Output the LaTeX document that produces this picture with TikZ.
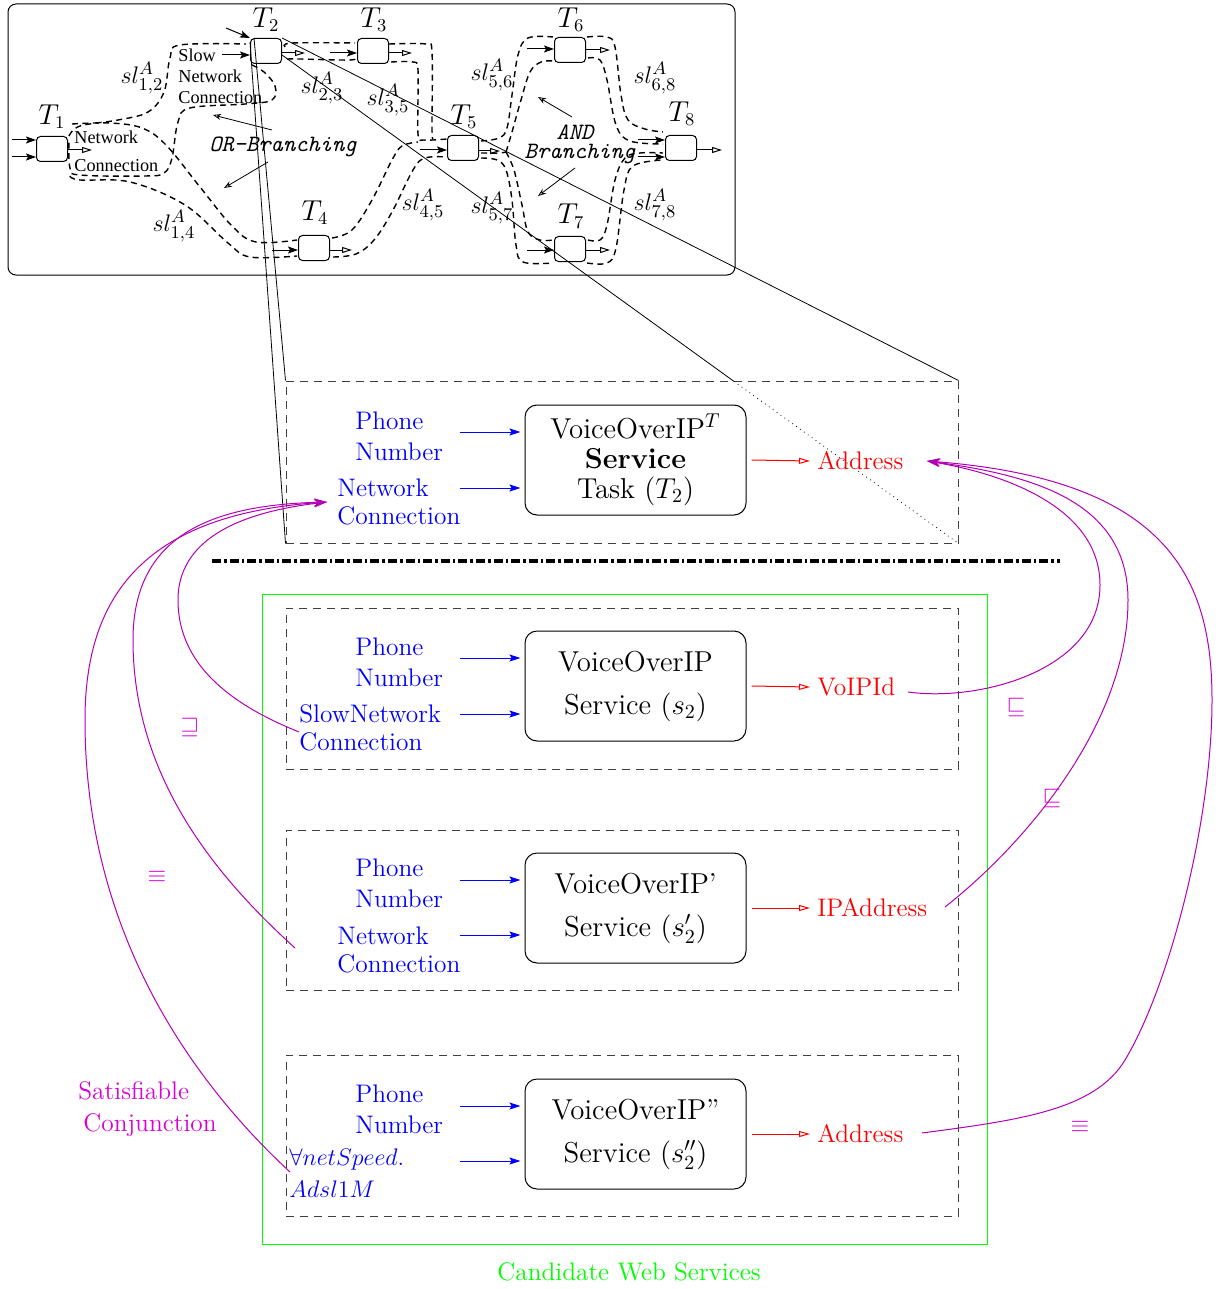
\documentclass[tikz,border=0pt]{standalone}
\usepackage{fontspec}
\usepackage{amssymb}
\newfontfamily\timesf{Liberation Serif}
\usetikzlibrary{arrows.meta,calc}
\definecolor{mgc}{RGB}{180,0,180}
\definecolor{mgl}{RGB}{215,0,215}
\definecolor{bluec}{RGB}{0,0,255}
\definecolor{redc}{RGB}{255,0,0}
\definecolor{greenc}{RGB}{0,255,0}
\begin{document}
\begin{tikzpicture}[x=0.5pt,y=-0.5pt,
  tbox/.style={draw, rounded corners=2pt, minimum width=15.5pt, minimum height=12.5pt, inner sep=0pt, line width=0.5pt},
  tlab/.style={font=\fontsize{13.4}{15}\selectfont, inner sep=0pt},
  sll/.style={font=\fontsize{13}{15}\selectfont, inner sep=0pt},
  tms/.style={font=\timesf\fontsize{9.1}{11}\selectfont, inner sep=0pt, anchor=west},
  brl/.style={font=\fontsize{11.7}{14}\ttfamily\itshape\selectfont, inner sep=0pt},
  tubes/.style={dash pattern=on 3pt off 2.2pt, line width=0.7pt},
  fin/.style={-{Stealth[length=5pt,width=3.5pt,inset=1pt]}, line width=0.5pt},
  fout/.style={-{Triangle[open,length=5pt,width=3pt]}, line width=0.5pt},
  thinarr/.style={-{Stealth[open,length=4pt,width=3pt]}, line width=0.4pt},
  dbox/.style={draw=black!75, dash pattern=on 4pt off 3pt, line width=0.5pt, inner sep=0pt, minimum width=336pt},
  svc/.style={draw, rounded corners=6pt, minimum width=110.5pt, minimum height=55pt, inner sep=0pt, align=center, line width=0.5pt},
  bin/.style={-{Stealth[length=5.5pt,width=3.5pt,inset=1pt]}, draw=bluec, line width=0.5pt},
  rout/.style={-{Triangle[open,length=5.5pt,width=3pt]}, draw=redc, line width=0.5pt},
  blab/.style={text=bluec, align=left, anchor=west, inner sep=0pt},
  rlab/.style={text=redc, anchor=west, inner sep=0pt, font=\fontsize{12.7}{15}\selectfont},
  mgarr/.style={draw=mgc, line width=0.5pt, -{Stealth[length=6.5pt,width=4pt]}},
  mglab/.style={text=mgl, inner sep=0pt, font=\fontsize{13}{15}\selectfont}
]
\useasboundingbox (0,0) rectangle (1221,1289);

% ---------- workflow box ----------
\node[draw, rounded corners=4pt, line width=0.5pt, minimum width=363.5pt, minimum height=135.5pt, inner sep=0pt] (wf) at (371.5,139.5) {};

\node[tbox] (t1) at (52,149) {};
\node[tbox] (t2) at (266,51) {};
\node[tbox] (t3) at (373,51) {};
\node[tbox] (t4) at (314,248) {};
\node[tbox] (t5) at (463,148) {};
\node[tbox] (t6) at (570,50) {};
\node[tbox] (t7) at (570,249) {};
\node[tbox] (t8) at (681,148) {};

\node[tlab] (lt1) at (52,117) {$T_1$};
\node[tlab] (lt2) at (266,20) {$T_2$};
\node[tlab] (lt3) at (374,20) {$T_3$};
\node[tlab] (lt4) at (315,213) {$T_4$};
\node[tlab] (lt5) at (464,117) {$T_5$};
\node[tlab] (lt6) at (571,20) {$T_6$};
\node[tlab] (lt7) at (571,216) {$T_7$};
\node[tlab] (lt8) at (682,114) {$T_8$};

\node[sll] (s12) at (142,78) {$sl^A_{1,2}$};
\node[sll] (s23) at (322,88) {$sl^A_{2,3}$};
\node[sll] (s35) at (388,100) {$sl^A_{3,5}$};
\node[sll] (s14) at (174,226) {$sl^A_{1,4}$};
\node[sll] (s45) at (423,205) {$sl^A_{4,5}$};
\node[sll] (s56) at (492,75) {$sl^A_{5,6}$};
\node[sll] (s57) at (492,208) {$sl^A_{5,7}$};
\node[sll] (s68) at (655,78) {$sl^A_{6,8}$};
\node[sll] (s78) at (655,205) {$sl^A_{7,8}$};

\node[tms] (slw) at (178,55) {Slow};
\node[tms] (snw) at (178,76) {Network};
\node[tms] (scn) at (178,98) {Connection};
\node[tms] (nw1) at (74,137) {Network};
\node[tms] (cn1) at (74,166) {Connection};

\node[brl] (orb) at (283,147) {OR-Branching};
\node[brl] (andl) at (575,132) {AND};
\node[brl] (brn) at (580,154) {Branching};

% dashed tubes
\draw[tubes] plot[smooth,tension=0.6] coordinates {(69,136) (80,126) (118,120) (148,112) (164,92) (170,58) (180,45) (246,44)};
\draw[tubes] plot[smooth,tension=0.6] coordinates {(72,124) (110,123) (142,128) (166,145) (200,187) (232,226) (256,242) (297,240)};
\draw[tubes] plot[smooth,tension=0.6] coordinates {(252,65) (264,72) (275,86) (272,100) (245,104) (190,108) (178,122) (172,158) (164,173) (145,176) (80,175) (70,168) (69,140)};
\draw[tubes] plot[smooth,tension=0.6] coordinates {(70,176) (80,180) (130,182) (185,205) (228,243) (250,257) (297,256)};
\draw[tubes] plot[smooth,tension=0.6] coordinates {(285,47) (292,43) (355,43)};
\draw[tubes] plot[smooth,tension=0.6] coordinates {(287,59) (300,59) (350,60) (356,57)};
\draw[tubes] plot[smooth,tension=0.5] coordinates {(389,44) (426,44) (432,52) (432,130) (433,138)};
\draw[tubes] plot[smooth,tension=0.5] coordinates {(391,62) (413,62) (418,70) (418,134) (424,140) (447,139)};
\draw[tubes] plot[smooth,tension=0.6] coordinates {(332,238) (352,230) (372,200) (392,160) (402,146) (418,142)};
\draw[tubes] plot[smooth,tension=0.6] coordinates {(333,257) (356,254) (374,240) (392,212) (413,170) (425,158) (447,157)};
\draw[tubes] plot[smooth,tension=0.6] coordinates {(481,141) (499,138) (507,128) (512,95) (518,55) (528,38) (553,37)};
\draw[tubes] plot[smooth,tension=0.6] coordinates {(506,152) (512,132) (521,100) (530,72) (541,62) (553,61)};
\draw[tubes] plot[smooth,tension=0.6] coordinates {(481,153) (499,153) (506,152)};
\draw[tubes] plot[smooth,tension=0.6] coordinates {(506,152) (514,170) (522,205) (528,232) (540,240) (553,240)};
\draw[tubes] plot[smooth,tension=0.6] coordinates {(481,158) (497,160) (506,170) (512,200) (516,245) (523,262) (553,263)};
\draw[tubes] plot[smooth,tension=0.6] coordinates {(587,37) (607,37) (615,47) (621,95) (628,120) (645,129) (663,132)};
\draw[tubes] plot[smooth,tension=0.6] coordinates {(588,58) (600,60) (607,80) (616,125) (630,141) (663,144)};
\draw[tubes] plot[smooth,tension=0.6] coordinates {(588,240) (600,240) (607,225) (615,180) (625,158) (640,153) (663,153)};
\draw[tubes] plot[smooth,tension=0.6] coordinates {(587,263) (607,263) (616,248) (624,190) (633,166) (663,160)};

% task arrows
\draw[fin] (12,140) coordinate (i1a) -- ([yshift=4.5pt]t1.west);
\draw[fin] (12,157) coordinate (i1b) -- ([yshift=-4pt]t1.west);
\draw[fout] ([yshift=-0.5pt]t1.east) -- (92,150) coordinate (o1);
\draw[fin] (222,55) coordinate (i2a) -- ([yshift=-2pt]t2.west);
\draw[fin] (226,28) coordinate (i2b) -- (t2.north west);
\draw[fout] ([yshift=-1pt]t2.east) -- (305,53) coordinate (o2);
\draw[fin] (330,53) coordinate (i3) -- ([yshift=-1pt]t3.west);
\draw[fout] ([yshift=-1pt]t3.east) -- (412,53) coordinate (o3);
\draw[fin] (272,250) coordinate (i4) -- ([yshift=-1pt]t4.west);
\draw[fout] ([yshift=-1pt]t4.east) -- (352,250) coordinate (o4);
\draw[fin] (420,150) coordinate (i5) -- ([yshift=-1pt]t5.west);
\draw[fout] ([yshift=-1.5pt]t5.east) -- (500,151) coordinate (o5);
\draw[fin] (527,49) coordinate (i6) -- ([yshift=0.5pt]t6.west);
\draw[fout] (t6.east) -- (610,50) coordinate (o6);
\draw[fin] (527,250) coordinate (i7) -- ([yshift=-0.5pt]t7.west);
\draw[fout] ([yshift=-0.5pt]t7.east) -- (610,250) coordinate (o7);
\draw[fin] (638,140) coordinate (i8a) -- ([yshift=4pt]t8.west);
\draw[fin] (638,157) coordinate (i8b) -- ([yshift=-4.5pt]t8.west);
\draw[fout] ([yshift=-1pt]t8.east) -- (722,150) coordinate (o8);

% branching arrows
\draw[thinarr] (272,130) coordinate (ob1) -- (213,115) coordinate (ob2);
\draw[thinarr] (268,162) coordinate (ob3) -- (224,188) coordinate (ob4);
\draw[thinarr] (572,117) coordinate (ab1) -- (538,97) coordinate (ab2);
\draw[thinarr] (575,168) coordinate (ab3) -- (538,196) coordinate (ab4);

% ---------- task detail box ----------
\node[dbox, minimum height=81pt] (db1) at (622,462) {};
\node[svc, font=\fontsize{14.4}{15}\selectfont] (svc1) at (635.5,460) {VoiceOverIP$^T$\\\textbf{Service}\\Task ($T_2$)};

\draw[line width=0.4pt] ([yshift=-2pt]t2.north west) -- (db1.south west);
\draw[line width=0.4pt] ([xshift=2pt]t2.north west) -- (db1.north west);
\draw[line width=0.4pt] (t2.north east) -- (db1.north east);
\coordinate (t2r) at ([yshift=-2pt]t2.east);
\coordinate (cross) at ($(t2r)!0.668!(db1.south east)$);
\draw[line width=0.4pt] (t2r) -- (cross);
\draw[line width=0.4pt, dotted] (cross) -- (db1.south east);

\node[blab, font=\fontsize{12.7}{15.5}\selectfont] (ph1) at (355,436) {Phone\\Number};
\node[blab, font=\fontsize{12.7}{14}\selectfont] (net1) at (337,502) {Network\\Connection};
\draw[bin] (460,432) coordinate (b1a) -- ([xshift=-2pt,yshift=14pt]svc1.west);
\draw[bin] (460,488) coordinate (b1b) -- ([xshift=-2pt,yshift=-14pt]svc1.west);
\node[rlab] (addr1) at (817,461) {Address};
\draw[rout] ([xshift=2.5pt]svc1.east) -- ([xshift=-3.5pt]addr1.west);

% separator
\draw[line width=1.6pt, dash pattern=on 4.5pt off 1.5pt on 1.3pt off 1.5pt] (212,561) coordinate (sepa) -- (1060,561) coordinate (sepb);

% ---------- candidates ----------
\node[draw=greenc, line width=0.5pt, minimum width=362.5pt, minimum height=325pt, inner sep=0pt] (cand) at (624.5,919) {};
\node[text=greenc, inner sep=0pt, font=\fontsize{12.7}{15}\selectfont] (candl) at (629,1272) {Candidate Web Services};

\node[dbox, minimum height=80.5pt] (db2) at (622,688.5) {};
\node[dbox, minimum height=80pt] (db3) at (622,910) {};
\node[dbox, minimum height=80.5pt] (db4) at (622,1135.5) {};

\node[svc, font=\fontsize{14.4}{15}\selectfont] (svc2) at (635.5,686) {VoiceOverIP\\[6.5pt]Service ($s_2$)};
\node[svc, font=\fontsize{14.4}{15}\selectfont] (svc3) at (635.5,908) {VoiceOverIP'\\[6.5pt]Service ($s'_2$)};
\node[svc, font=\fontsize{14.4}{15}\selectfont] (svc4) at (635.5,1134) {VoiceOverIP''\\[6.5pt]Service ($s''_2$)};

\node[blab, font=\fontsize{12.7}{15.5}\selectfont] (ph2) at (355,662) {Phone\\Number};
\node[blab, font=\fontsize{12.7}{14}\selectfont] (slow2) at (299,728) {SlowNetwork\\Connection};
\node[blab, font=\fontsize{12.7}{15.5}\selectfont] (ph3) at (355,883) {Phone\\Number};
\node[blab, font=\fontsize{12.7}{14}\selectfont] (net3) at (337,950) {Network\\Connection};
\node[blab, font=\fontsize{12.7}{15.5}\selectfont] (ph4) at (355,1109) {Phone\\Number};
\node[blab, font=\fontsize{12.7}{16}\selectfont] (fa4) at (289,1173) {$\forall netSpeed.$\\$Adsl1M$};

\draw[bin] (460,658) coordinate (b2a) -- ([xshift=-2pt,yshift=14pt]svc2.west);
\draw[bin] (460,714) coordinate (b2b) -- ([xshift=-2pt,yshift=-14pt]svc2.west);
\draw[bin] (460,880) coordinate (b3a) -- ([xshift=-2pt,yshift=14pt]svc3.west);
\draw[bin] (460,935) coordinate (b3b) -- ([xshift=-2pt,yshift=-13.5pt]svc3.west);
\draw[bin] (460,1106) coordinate (b4a) -- ([xshift=-2pt,yshift=14pt]svc4.west);
\draw[bin] (460,1161) coordinate (b4b) -- ([xshift=-2pt,yshift=-13.5pt]svc4.west);

\node[rlab] (voip2) at (817,687) {VoIPId};
\node[rlab] (ipa3) at (817,908) {IPAddress};
\node[rlab] (addr4) at (817,1134) {Address};
\draw[rout] ([xshift=2.5pt]svc2.east) -- ([xshift=-3.5pt]voip2.west);
\draw[rout] ([xshift=2.5pt]svc3.east) -- ([xshift=-3.5pt]ipa3.west);
\draw[rout] ([xshift=2.5pt]svc4.east) -- ([xshift=-3.5pt]addr4.west);

% ---------- magenta relations ----------
\coordinate (mL) at (327,502);
\coordinate (mR) at (927,461);
\coordinate (sL1) at (299,732);
\coordinate (sL2) at (295,948);
\coordinate (sL3) at (290,1172);
\coordinate (sR1) at (908,692);
\coordinate (sR2) at (945,907);
\coordinate (sR3) at (922,1133);

\draw[mgarr] (sL1) .. controls (240,708) and (178,670) .. (178,600) .. controls (178,530) and (260,510) .. (mL);
\draw[mgarr] (sL2) .. controls (220,880) and (133,780) .. (133,640) .. controls (133,530) and (220,505) .. (mL);
\draw[mgarr] (sL3) .. controls (180,1070) and (85,920) .. (85,720) .. controls (85,600) and (140,515) .. (mL);

\draw[mgarr] (sR1) .. controls (980,702) and (1100,670) .. (1100,585) .. controls (1100,510) and (1010,475) .. (mR);
\draw[mgarr] (sR2) .. controls (1030,840) and (1128,720) .. (1128,600) .. controls (1128,500) and (1030,475) .. (mR);
\draw[mgarr] (sR3) .. controls (1020,1120) and (1095,1110) .. (1125,1060) .. controls (1170,985) and (1212,820) .. (1212,700) .. controls (1212,580) and (1170,480) .. (mR);

\node[mglab] (rel1) at (190,727) {$\sqsupseteq$};
\node[mglab] (rel2) at (157,877) {$\equiv$};
\node[mglab, align=left, anchor=west, font=\fontsize{12.7}{16}\selectfont] (satc) at (78,1109) {Satisfiable\\\hspace*{2.5pt}Conjunction};
\node[mglab] (rel3) at (1016,707) {$\sqsubseteq$};
\node[mglab] (rel4) at (1052,798) {$\sqsubseteq$};
\node[mglab] (rel5) at (1080,1127) {$\equiv$};
\end{tikzpicture}
\end{document}
